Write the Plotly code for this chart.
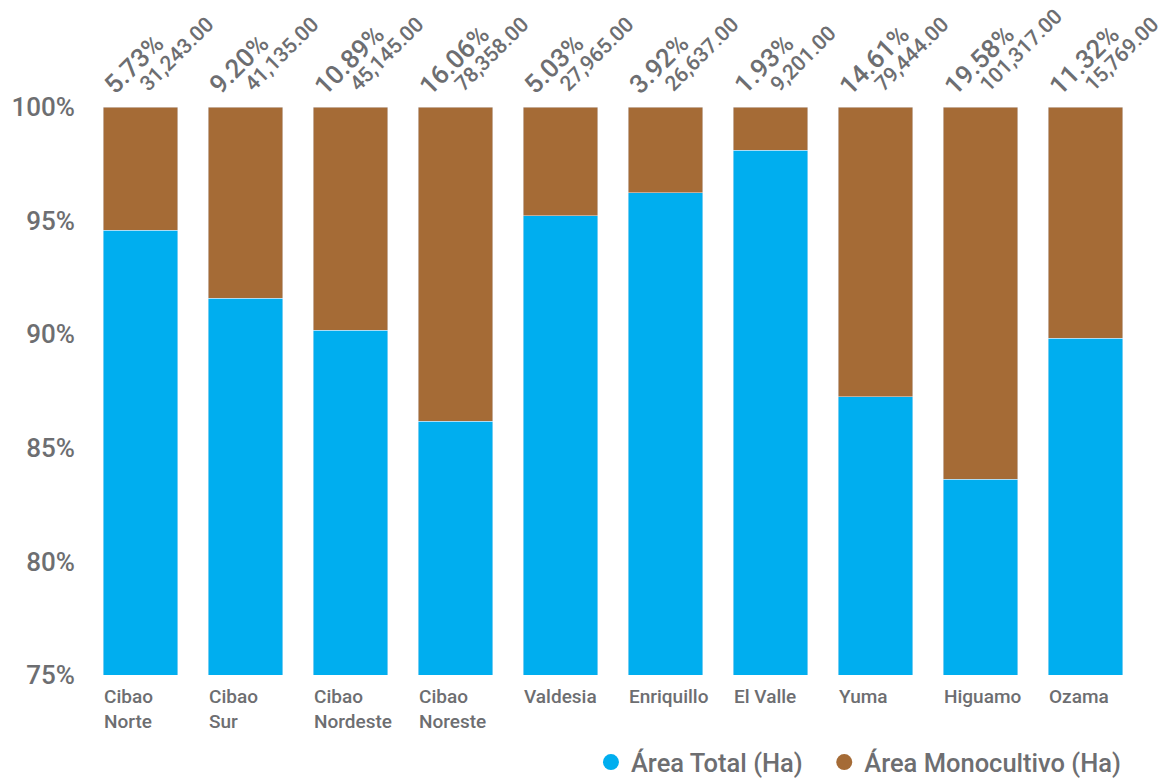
import plotly.graph_objects as go

# ---- data ----
regions = ["Cibao Norte", "Cibao Sur", "Cibao Nordeste", "Cibao Noreste", "Valdesia",
           "Enriquillo", "El Valle", "Yuma", "Higuamo", "Ozama"]
region_labels = ["Cibao<br>Norte", "Cibao<br>Sur", "Cibao<br>Nordeste", "Cibao<br>Noreste", "Valdesia",
                 "Enriquillo", "El Valle", "Yuma", "Higuamo", "Ozama"]
mono_pct = [5.73, 9.20, 10.89, 16.06, 5.03, 3.92, 1.93, 14.61, 19.58, 11.32]
mono_ha = [31243, 41135, 45145, 78358, 27965, 26637, 9201, 79444, 101317, 15769]
total_ha = [545253, 447120, 414555, 487908, 555964, 679515, 476736, 543764, 517451, 139302]
y_ticks = [75, 80, 85, 90, 95, 100]
y_tick_text = ["75%", "80%", "85%", "90%", "95%", "100%"]

BLUE = "#00AEEF"
BROWN = "#A56B36"
GRAY = "#6D6E71"
FONT = "Roboto"

fig = go.Figure()
fig.add_trace(go.Bar(x=regions, y=total_ha, name="Área Total (Ha)", marker_color=BLUE,
                     showlegend=False))
fig.add_trace(go.Bar(x=regions, y=mono_ha, name="Área Monocultivo (Ha)", marker_color=BROWN,
                     showlegend=False))
# legend entries with circular symbols (one legend box each)
fig.add_trace(go.Scatter(x=[None], y=[None], mode="markers", name="Área Total (Ha)",
                         marker=dict(color=BLUE, size=19, symbol="circle"), legend="legend"))
fig.add_trace(go.Scatter(x=[None], y=[None], mode="markers", name="Área Monocultivo (Ha)",
                         marker=dict(color=BROWN, size=19, symbol="circle"), legend="legend2"))

annotations = []
for reg, lab, p, m in zip(regions, region_labels, mono_pct, mono_ha):
    annotations.append(dict(x=reg, y=0, xref="x", yref="paper", text=lab, showarrow=False,
                            xanchor="left", yanchor="top", align="left", xshift=-39, yshift=-8,
                            font=dict(family=FONT, size=19, color=GRAY, weight=500)))
    annotations.append(dict(x=reg, y=1, xref="x", yref="paper", text=f"{p:.2f}%", showarrow=False,
                            textangle=-45, xanchor="left", yanchor="bottom", xshift=-45, yshift=4,
                            font=dict(family=FONT, size=26, color=GRAY, weight=500)))
    annotations.append(dict(x=reg, y=1, xref="x", yref="paper", text=f"{m:,.2f}", showarrow=False,
                            textangle=-45, xanchor="left", yanchor="bottom", xshift=-8, yshift=8,
                            font=dict(family=FONT, size=21, color=GRAY, weight=500)))

legend_common = dict(orientation="h", xanchor="left", yanchor="middle", y=-0.154,
                     bgcolor="rgba(0,0,0,0)", itemsizing="trace",
                     font=dict(family=FONT, size=25.5, color=GRAY, weight=500))

fig.update_layout(
    width=1166, height=778, autosize=False,
    barmode="stack", barnorm="percent", bargap=0.295,
    paper_bgcolor="white", plot_bgcolor="white",
    margin=dict(l=88, r=28, t=107, b=103, autoexpand=False),
    font=dict(family=FONT, color=GRAY),
    xaxis=dict(range=[-0.5, len(regions) - 0.5], showticklabels=False, showgrid=False,
               zeroline=False, showline=False),
    yaxis=dict(range=[75, 100], tickmode="array", tickvals=y_ticks, ticktext=y_tick_text,
               showgrid=False, zeroline=False, showline=False, ticklabelstandoff=12,
               tickfont=dict(family=FONT, size=26, color=GRAY, weight=500)),
    legend=dict(x=0.479, **legend_common),
    legend2=dict(x=0.7012, **legend_common),
    annotations=annotations,
)

post = ("document.body.style.margin='0';document.body.style.overflow='hidden';"
        "var gd=document.getElementById('{plot_id}');"
        "Plotly.relayout(gd,{width:1166,height:778});")
fig.write_html("out.html", post_script=post,
               config={"responsive": False, "displayModeBar": False})
